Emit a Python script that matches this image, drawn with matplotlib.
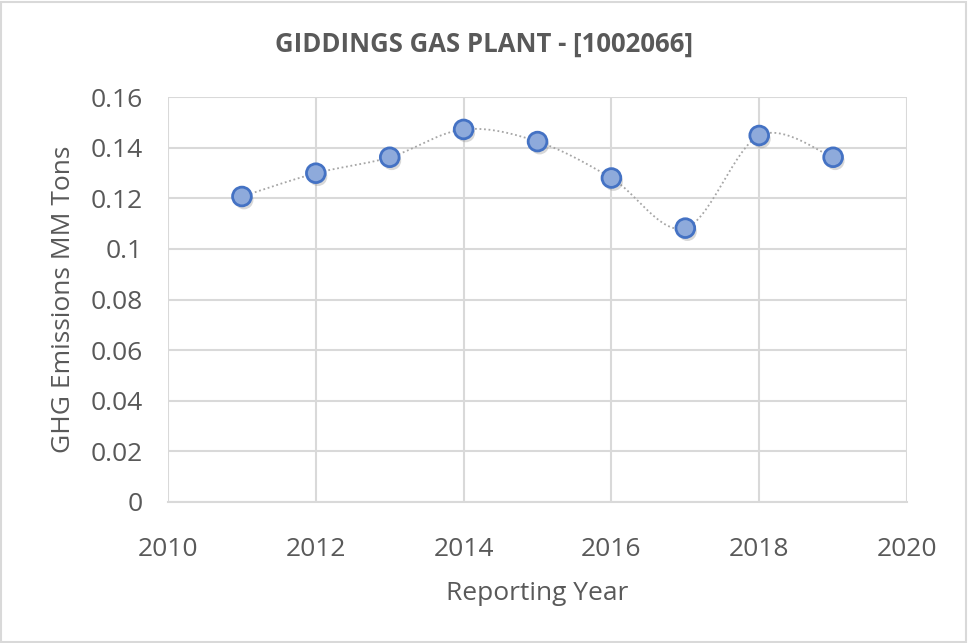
import numpy as np
import matplotlib.pyplot as plt
import matplotlib.patheffects as pe
from matplotlib.patches import Rectangle

years = [2011, 2012, 2013, 2014, 2015, 2016, 2017, 2018, 2019]
emissions = [0.1207, 0.1299, 0.1362, 0.1472, 0.1424, 0.1280, 0.1082, 0.1448, 0.1362]
title = 'GIDDINGS GAS PLANT - [1002066]'
x_ticks = [2010, 2012, 2014, 2016, 2018, 2020]
y_ticks = [0, 0.02, 0.04, 0.06, 0.08, 0.1, 0.12, 0.14, 0.16]
y_tick_labels = ['0', '0.02', '0.04', '0.06', '0.08', '0.1', '0.12', '0.14', '0.16']

plt.rcParams['font.family'] = ['Open Sans', 'DejaVu Sans']
txt = '#595959'
grid = '#d9d9d9'


def smooth(x, y, n=30):
    # excel-style smoothed line: bezier segments with catmull-rom tangents
    x = np.asarray(x, float)
    y = np.asarray(y, float)
    px = np.concatenate([[x[0]], x, [x[-1]]])
    py = np.concatenate([[y[0]], y, [y[-1]]])
    t = np.linspace(0, 1, n)[:, None]
    xs, ys = [], []
    for i in range(1, len(px) - 2):
        p0 = np.array([px[i], py[i]])
        p3 = np.array([px[i + 1], py[i + 1]])
        p1 = p0 + (np.array([px[i + 1], py[i + 1]]) - np.array([px[i - 1], py[i - 1]])) / 6
        p2 = p3 - (np.array([px[i + 2], py[i + 2]]) - np.array([px[i], py[i]])) / 6
        b = (1 - t) ** 3 * p0 + 3 * (1 - t) ** 2 * t * p1 + 3 * (1 - t) * t ** 2 * p2 + t ** 3 * p3
        xs.append(b[:, 0])
        ys.append(b[:, 1])
    return np.concatenate(xs), np.concatenate(ys)


fig = plt.figure(figsize=(9.68, 6.43), dpi=100)
fig.patches.append(Rectangle((0.001, 0.002), 0.997, 0.995, transform=fig.transFigure,
                             fill=False, edgecolor=grid, linewidth=1.5))
ax = fig.add_axes([0.1736, 0.2193, 0.7634, 0.6298])

sx, sy = smooth(years, emissions)
ax.plot(sx, sy, color='#a6a6a6', linestyle=(0, (1, 1.5)), linewidth=1.3, zorder=3)
ax.plot(years, emissions, linestyle='none', marker='o', markersize=13.5,
        markerfacecolor='#8eaadb', markeredgecolor='#4472c4', markeredgewidth=2, zorder=4,
        path_effects=[pe.SimplePatchShadow(offset=(1.5, -2.5), shadow_rgbFace='#7f7f7f', alpha=0.3),
                      pe.Normal()])

ax.set_xlim(2010, 2020)
ax.set_ylim(0, 0.16)
ax.set_xticks(x_ticks)
ax.set_yticks(y_ticks)
ax.set_yticklabels(y_tick_labels)
ax.grid(True, color=grid, linewidth=1.5)
ax.set_axisbelow(True)
for s in ax.spines.values():
    s.set_visible(False)
ax.spines['bottom'].set_visible(True)
ax.spines['bottom'].set_color(grid)
ax.spines['bottom'].set_linewidth(1.5)
ax.tick_params(length=0, labelsize=19, labelcolor=txt)
ax.tick_params(axis='y', pad=18)
ax.tick_params(axis='x', pad=25)

ax.set_xlabel('Reporting Year', fontsize=19, color=txt, labelpad=14)
ax.set_ylabel('GHG Emissions MM Tons', fontsize=19, color=txt, labelpad=11)
fig.text(0.5, 0.931, title, ha='center', va='center', fontsize=18.5, fontweight='bold', color=txt)

fig.savefig('out.png', dpi=100)
